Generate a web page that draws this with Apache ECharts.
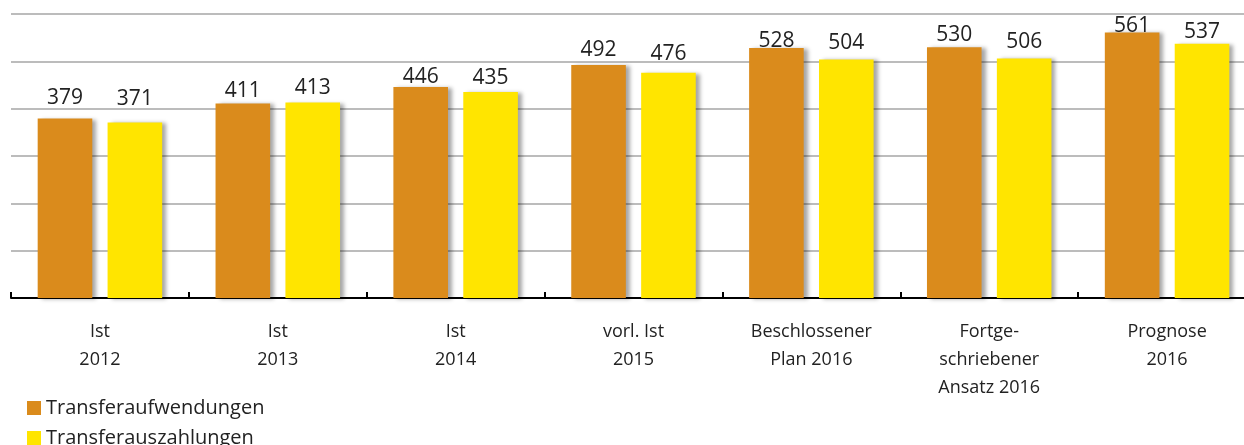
<!DOCTYPE html>
<html>
<head>
<meta charset="utf-8">
<script src="https://cdn.jsdelivr.net/npm/echarts@6/dist/echarts.min.js"></script>
<style>
  html, body { margin: 0; padding: 0; background: #fff; }
  #main { width: 1244px; height: 445px; }
</style>
</head>
<body>
<div id="main"></div>
<script>
// Kategorien und Werte
var categories = ['Ist\n2012', 'Ist\n2013', 'Ist\n2014', 'vorl. Ist\n2015', 'Beschlossener\nPlan 2016', 'Fortge-\nschriebener\nAnsatz 2016', 'Prognose\n2016'];
var aufwendungen = [379, 411, 446, 492, 528, 530, 561];
var auszahlungen = [371, 413, 435, 476, 504, 506, 537];
var seriesNames = ['Transferaufwendungen', 'Transferauszahlungen'];

// Abstand der Beschriftungen über den Balken (wie im Original etwas unregelmäßig)
var labelDistA = [10, 2, -1, 5, -3, 2, -4];
var labelDistB = [13, 4, 4, 8, 6, 6, 1];

var font = 'Open Sans';
var myChart = echarts.init(document.getElementById('main'));
var barShadow = {
    shadowColor: 'rgba(0,0,0,0.35)',
    shadowBlur: 4,
    shadowOffsetX: 4,
    shadowOffsetY: 1
};
function withLabelDist(values, dists) {
    return values.map(function (v, i) {
        return { value: v, label: { distance: dists[i] } };
    });
}
var legendBase = {
    orient: 'vertical',
    left: 22,
    itemWidth: 14,
    itemHeight: 14,
    icon: 'rect',
    selectedMode: false,
    textStyle: { fontSize: 20, color: '#222', fontFamily: font }
};
var option = {
    animation: false,
    textStyle: { fontFamily: font },
    grid: {
        left: 11,
        right: -12,
        top: 14,
        bottom: 147,
        containLabel: false,
        outerBoundsMode: 'none'
    },
    legend: [
        Object.assign({ top: 393, data: [seriesNames[0]] }, legendBase),
        Object.assign({ top: 423, data: [seriesNames[1]] }, legendBase)
    ],
    xAxis: {
        type: 'category',
        data: categories,
        axisLine: { lineStyle: { color: '#000', width: 2 } },
        axisTick: { show: true, inside: true, length: 6, lineStyle: { color: '#000', width: 2 } },
        axisLabel: {
            interval: 0,
            margin: 20,
            fontSize: 18,
            lineHeight: 28,
            color: '#222',
            fontFamily: font
        }
    },
    yAxis: {
        type: 'value',
        min: 0,
        max: 600,
        interval: 100,
        axisLabel: { show: false },
        axisLine: { show: false },
        axisTick: { show: false },
        splitLine: { lineStyle: { color: '#a6a6a6', width: 1.5 } }
    },
    series: [
        {
            name: seriesNames[0],
            type: 'bar',
            data: withLabelDist(aufwendungen, labelDistA),
            barCategoryGap: '30%',
            barGap: '28%',
            itemStyle: Object.assign({ color: '#da8b1c' }, barShadow),
            label: { show: true, position: 'top', distance: 9, fontSize: 21, color: '#222', fontFamily: font }
        },
        {
            name: seriesNames[1],
            type: 'bar',
            data: withLabelDist(auszahlungen, labelDistB),
            itemStyle: Object.assign({ color: '#ffe500' }, barShadow),
            label: { show: true, position: 'top', distance: 9, fontSize: 21, color: '#222', fontFamily: font }
        }
    ]
};
myChart.setOption(option);
</script>
</body>
</html>
